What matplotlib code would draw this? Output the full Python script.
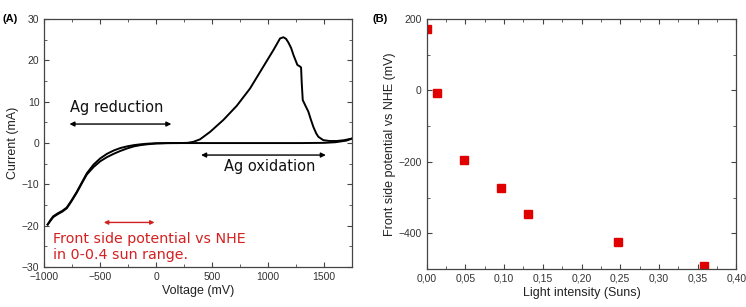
import matplotlib.pyplot as plt
from matplotlib.ticker import MultipleLocator, FuncFormatter

# CV sweep: forward scan then reverse scan
v_fwd = [-970, -945, -920, -880, -840, -800, -760, -710, -660, -620, -560, -500, -440, -380, -320,
         -260, -200, -140, -80, 0, 100, 200, 280, 332, 391, 481, 600, 719, 838, 957, 1047, 1106,
         1136, 1160, 1181, 1205, 1226, 1261, 1280, 1294, 1300, 1309, 1330, 1359, 1380, 1404,
         1430, 1449, 1493, 1550, 1613, 1680, 1750]
i_fwd = [-19.7, -18.6, -17.7, -17.0, -16.4, -15.6, -14.0, -11.8, -9.3, -7.3, -5.2, -3.7, -2.6, -1.8,
         -1.2, -0.8, -0.5, -0.3, -0.15, -0.05, 0.0, 0.0, 0.05, 0.3, 0.9, 2.7, 5.6, 9.0, 13.2, 18.5,
         22.5, 25.3, 25.6, 25.2, 24.3, 23.0, 21.3, 18.9, 18.6, 18.3, 14.5, 10.4, 9.2, 7.6, 5.8, 3.9,
         2.3, 1.5, 0.7, 0.5, 0.5, 0.7, 1.1]
v_rev = [1750, 1700, 1600, 1500, 1300, 1000, 700, 400, 200, 100, 0, -80, -140, -200, -260,
         -320, -380, -440, -500, -560, -620, -660, -710, -760, -800, -840, -880, -920, -945, -970]
i_rev = [1.1, 0.6, 0.2, 0.05, 0.0, 0.0, 0.0, 0.0, 0.0, -0.02, -0.1, -0.3, -0.5, -0.8, -1.3,
         -1.9, -2.6, -3.4, -4.4, -5.8, -7.6, -9.5, -12.0, -14.2, -15.8, -16.6, -17.2, -17.9, -18.8, -19.7]

# panel B
intensity = [0.0, 0.013, 0.048, 0.096, 0.131, 0.247, 0.358]
potential = [172, -7, -195, -272, -347, -424, -491]

plt.rcParams['font.family'] = ['Liberation Sans', 'DejaVu Sans']
tick_col = '#333333'

fig = plt.figure(figsize=(7.46, 3.07), dpi=100)
ax1 = fig.add_axes([0.0594, 0.130, 0.4126, 0.808])
ax2 = fig.add_axes([0.572, 0.124, 0.415, 0.814])

for ax in (ax1, ax2):
    ax.tick_params(which='both', direction='in', top=True, right=True, labelsize=7.5,
                   labelcolor=tick_col, color='#444444')
    ax.tick_params(which='major', length=3.5, width=0.8)
    ax.tick_params(which='minor', length=2, width=0.6)
    for s in ax.spines.values():
        s.set_color('#444444')
        s.set_linewidth(0.9)

# panel A
ax1.plot(v_fwd, i_fwd, color='black', lw=1.4)
ax1.plot(v_rev, i_rev, color='black', lw=1.4)
ax1.set_xlim(-1000, 1750)
ax1.set_ylim(-30, 30)
ax1.xaxis.set_major_locator(MultipleLocator(500))
ax1.xaxis.set_minor_locator(MultipleLocator(250))
ax1.yaxis.set_major_locator(MultipleLocator(10))
ax1.yaxis.set_minor_locator(MultipleLocator(5))
ax1.set_xlabel('Voltage (mV)', fontsize=9, color='#222222', labelpad=2)
ax1.set_ylabel('Current (mA)', fontsize=9, color='#222222', labelpad=2)

ax1.annotate('', xy=(-800, 4.6), xytext=(160, 4.6),
             arrowprops=dict(arrowstyle='<|-|>', color='black', lw=1.0, mutation_scale=7))
ax1.text(-353, 8.5, 'Ag reduction', ha='center', va='center', fontsize=10.5,
         family='DejaVu Sans', color='#111111')
ax1.annotate('', xy=(376, -2.9), xytext=(1540, -2.9),
             arrowprops=dict(arrowstyle='<|-|>', color='black', lw=1.0, mutation_scale=7))
ax1.text(1017, -5.6, 'Ag oxidation', ha='center', va='center', fontsize=10.5,
         family='DejaVu Sans', color='#111111')
ax1.annotate('', xy=(-493, -19.2), xytext=(10, -19.2),
             arrowprops=dict(arrowstyle='<|-|>', color='#d42020', lw=1.0, mutation_scale=6))
ax1.text(-920, -25.2, 'Front side potential vs NHE\nin 0-0.4 sun range.', ha='left', va='center',
         fontsize=10.3, family='DejaVu Sans', color='#d42020', linespacing=1.2)

# panel B
ax2.plot(intensity, potential, 's', color='#e00000', ms=6.3, clip_on=True)
ax2.set_xlim(0, 0.4)
ax2.set_ylim(-500, 200)
ax2.xaxis.set_major_locator(MultipleLocator(0.05))
ax2.xaxis.set_minor_locator(MultipleLocator(0.025))
ax2.yaxis.set_major_locator(MultipleLocator(200))
ax2.yaxis.set_minor_locator(MultipleLocator(100))
ax2.xaxis.set_major_formatter(FuncFormatter(lambda x, p: ('%.2f' % x).replace('.', ',')))
ax2.set_xlabel('Light intensity (Suns)', fontsize=9, color='#222222', labelpad=2)
ax2.set_ylabel('Front side potential vs NHE (mV)', fontsize=9, color='#222222', labelpad=2)

fig.text(0.003, 0.938, '(A)', fontsize=8, fontweight='bold', va='center')
fig.text(0.499, 0.938, '(B)', fontsize=8, fontweight='bold', va='center')

fig.savefig('out.png', dpi=100)
